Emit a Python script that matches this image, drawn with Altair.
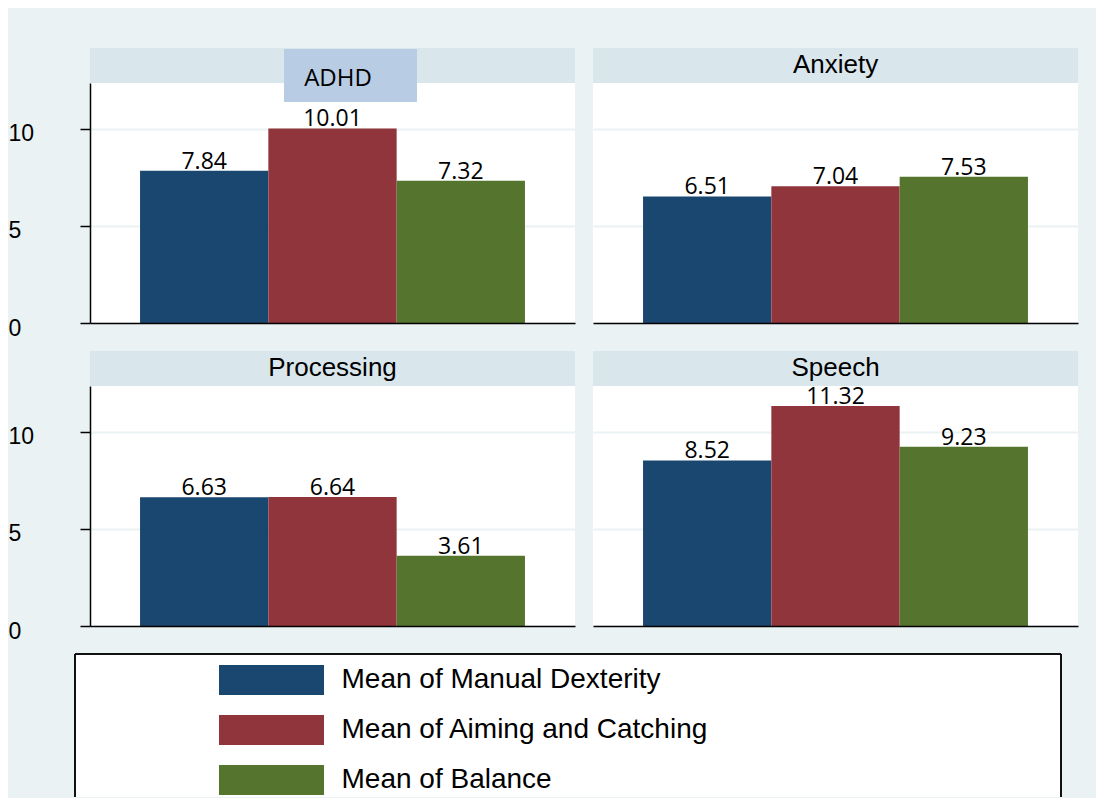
import altair as alt
import pandas as pd

groups = ["ADHD", "Anxiety", "Processing", "Speech"]
series = ["Mean of Manual Dexterity", "Mean of Aiming and Catching", "Mean of Balance"]
manual = [7.84, 6.51, 6.63, 8.52]
aiming = [10.01, 7.04, 6.64, 11.32]
balance = [7.32, 7.53, 3.61, 9.23]
colors = ["#1a476f", "#90353b", "#55752f"]
ticks = [0, 5, 10]

BG = "#eaf2f3"
HEAD = "#d9e6eb"
BOX = "#b8cce4"
GRID = "#eaf2f3"

rows = []
for i, g in enumerate(groups):
    for s, vals in zip(series, [manual, aiming, balance]):
        rows.append({"group": g, "series": s, "value": vals[i]})
df = pd.DataFrame(rows)

W = 485
HDR = 35
PH = 240
H = HDR + PH
YMAX = 12.35

legend = alt.Legend(
    orient="none", legendX=166.5, legendY=617, direction="vertical",
    title=None, symbolType="M-3.5,-1H3.5V1H-3.5Z", symbolSize=900,
    symbolStrokeWidth=0, labelFont="Liberation Sans", labelFontSize=28,
    labelColor="black", labelOffset=55, rowPadding=20, padding=0,
    labelLimit=0,
)


def panel(g, left):
    d = df[df.group == g]
    x = alt.X("series:N", sort=series,
              scale=alt.Scale(domain=series, paddingInner=0, paddingOuter=0.39),
              axis=alt.Axis(title=None, labels=False, ticks=False, grid=False,
                            domainColor="black", domainWidth=1.5, zindex=1))
    if left:
        yaxis = alt.Axis(title=None, values=ticks, labelAlign="left", labelPadding=72,
                         tickSize=10, tickColor="black", tickWidth=1.5,
                         domainColor="black", domainWidth=1.5,
                         labelFont="Liberation Sans", labelFontSize=23, labelColor="black",
                         labelBaseline="middle", labelOffset=5,
                         gridColor=GRID, gridWidth=2)
    else:
        yaxis = alt.Axis(title=None, values=ticks, labels=False, ticks=False, domain=False,
                         gridColor=GRID, gridWidth=2)
    y = alt.Y("value:Q", scale=alt.Scale(domain=[0, YMAX], range=[H, HDR], nice=False),
              axis=yaxis)
    color = alt.Color("series:N", scale=alt.Scale(domain=series, range=colors), legend=legend)
    bars = alt.Chart(d).mark_bar(strokeWidth=0).encode(x=x, y=y, color=color)
    labels = alt.Chart(d).mark_text(font="Open Sans", fontSize=23, baseline="alphabetic",
                                    dy=-2, color="black").encode(
        x=x, y=y, text=alt.Text("value:Q", format=".2f"))
    hd = pd.DataFrame({"group": [g]})
    header = alt.Chart(hd).mark_rect(color=HEAD).encode(
        x=alt.value(0), x2=alt.value(W), y=alt.value(0), y2=alt.value(HDR))
    if g == "ADHD":
        box = alt.Chart(hd).mark_rect(color=BOX).encode(
            x=alt.value(194), x2=alt.value(327), y=alt.value(1), y2=alt.value(54))
        txt = alt.Chart(hd).mark_text(font="Open Sans", fontSize=24, baseline="alphabetic",
                                      align="center", color="black").encode(
            text="group:N", x=alt.value(248), y=alt.value(37.7))
        layers = [header, bars, labels, box, txt]
    else:
        htxt = alt.Chart(hd).mark_text(font="Liberation Sans", fontSize=26,
                                       baseline="alphabetic", align="center",
                                       color="black").encode(
            text="group:N", x=alt.value(W / 2), y=alt.value(25))
        layers = [header, htxt, bars, labels]
    return alt.layer(*layers).properties(
        width=W, height=H, view=alt.ViewBackground(fill="white", stroke=None))


row1 = alt.hconcat(panel("ADHD", True), panel("Anxiety", False), spacing=18)
row2 = alt.hconcat(panel("Processing", True), panel("Speech", False), spacing=18)

BX0 = -15
BX1 = 971
LW = 975
LH = 143
one = pd.DataFrame({"k": [0]})
bfill = alt.Chart(one).mark_rect(color="white").encode(
    x=alt.value(BX0), x2=alt.value(BX1), y=alt.value(0), y2=alt.value(LH))
r_left = alt.Chart(one).mark_rule(color="#111111", strokeWidth=2).encode(
    x=alt.value(BX0), y=alt.value(0), y2=alt.value(LH))
r_top = alt.Chart(one).mark_rule(color="#111111", strokeWidth=2).encode(
    x=alt.value(BX0), x2=alt.value(BX1), y=alt.value(0))
r_right = alt.Chart(one).mark_rule(color="#111111", strokeWidth=2).encode(
    x=alt.value(BX1), y=alt.value(0), y2=alt.value(LH))
legend_chart = alt.layer(bfill, r_left, r_top, r_right).properties(
    width=LW, height=LH, view=alt.ViewBackground(stroke=None))

chart = alt.vconcat(
    alt.vconcat(row1, row2, spacing=11), legend_chart, spacing=10
).properties(
    padding={"left": 0, "top": 40, "right": 18, "bottom": 0},
    background=BG,
).configure_view(stroke=None)

chart.save("out.html", embed_options={"renderer": "svg", "actions": False})
